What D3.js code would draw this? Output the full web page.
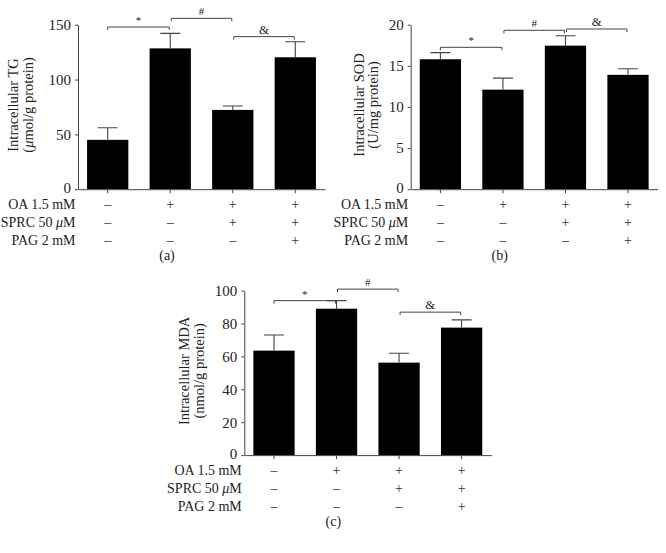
<!DOCTYPE html>
<html>
<head>
<meta charset="utf-8">
<script src="https://cdn.jsdelivr.net/npm/d3@7"></script>
<style>
  body { margin: 0; background: #fff; }
  svg { display: block; font-family: "Liberation Serif", "DejaVu Serif", serif; }
</style>
</head>
<body>
<div id="chart"></div>
<script>
const groups = ['ctrl', 'oa', 'oa_sprc', 'oa_sprc_pag'];

const tgMean = [45, 128.4, 72.3, 120.3];
const tgErr = [11, 13.7, 3.6, 14.2];
const sodMean = [15.8, 12.1, 17.45, 13.9];
const sodErr = [0.8, 1.4, 1.2, 0.75];
const mdaMean = [63.5, 89, 56.2, 77.5];
const mdaErr = [9.5, 4.9, 5.7, 4.7];

const tgTicks = [0, 50, 100, 150];
const sodTicks = [0, 5, 10, 15, 20];
const mdaTicks = [0, 20, 40, 60, 80, 100];

// [from, to, level, symbol]
const tgSig = [[0, 1, 147.9, '*'], [1, 2, 155.8, '#'], [2, 3, 139.1, '&']];
const sodSig = [[0, 1, 17.25, '*'], [1, 2, 19.32, '#'], [2, 3, 19.48, '&']];
const mdaSig = [[0, 1, 93.9, '*'], [1, 2, 100.9, '#'], [2, 3, 86.9, '&']];

const rowLabels = ['OA 1.5 mM', 'SPRC 50 \u03bcM', 'PAG 2 mM'];
const rowSigns = [
    ['\u2013', '+', '+', '+'],
    ['\u2013', '\u2013', '+', '+'],
    ['\u2013', '\u2013', '\u2013', '+']
];

const svg = d3.select('#chart').append('svg')
    .attr('width', 666)
    .attr('height', 553);

const ink = '#222';
const grey = '#444';

// writes a label, setting any mu in italics
function with_mu(sel, lab) {
    if (lab.indexOf('\u03bc') >= 0) {
        const parts = lab.split('\u03bc');
        sel.append('tspan').text(parts[0]);
        sel.append('tspan').style('font-style', 'italic').text('\u03bc');
        sel.append('tspan').text(parts[1]);
    } else {
        sel.text(lab);
    }
}

function bar_panel(fmt, mean, err, ticks, sig) {
    const width = 247, height = 164.5;

    const x = d3.scaleBand().domain(groups)
        .range([0, width]).paddingInner(0.34).paddingOuter(0.145);
    const y = d3.scaleLinear().domain([0, ticks[ticks.length - 1]]).range([height, 0]);

    const g = svg.append('g')
        .attr('transform', 'translate(' + fmt.left + ',' + fmt.top + ')');

    g.selectAll('.bar')
        .data(mean)
        .enter().append('rect')
        .attr('x', (_, i) => x(groups[i]))
        .attr('y', (d) => y(d))
        .attr('width', x.bandwidth())
        .attr('height', (d) => height - y(d))
        .attr('fill', '#000');

    const cx = (i) => x(groups[i]) + x.bandwidth() / 2;

    g.selectAll('.err')
        .data(mean)
        .enter().append('path')
        .attr('fill', 'none')
        .attr('stroke', grey)
        .attr('stroke-width', 1.1)
        .attr('d', (d, i) => 'M' + cx(i) + ',' + y(d) + 'V' + y(d + err[i]) +
            'M' + (cx(i) - 10) + ',' + y(d + err[i]) + 'H' + (cx(i) + 10));

    const yAxis = g.append('g')
        .call(d3.axisLeft(y).tickValues(ticks).tickSize(3).tickSizeOuter(0).tickPadding(4));
    const xAxis = g.append('g')
        .attr('transform', 'translate(0,' + height + ')')
        .call(d3.axisBottom(x).tickSize(4).tickSizeOuter(0).tickFormat(''));
    [yAxis, xAxis].forEach((a) => {
        a.selectAll('path, line').attr('stroke', grey);
        a.selectAll('text').attr('fill', ink)
            .style('font-family', '"Liberation Serif", serif')
            .style('font-size', '15px');
    });
    // lift the zero label a little so it clears the first row label
    yAxis.selectAll('.tick text').filter((d) => d == 0).attr('dy', '0.2em');

    sig.forEach((s) => {
        const x1 = cx(s[0]) + (s[0] > 0 ? 1 : 0), x2 = cx(s[1]) - 1, yy = y(s[2]);
        g.append('path')
            .attr('fill', 'none')
            .attr('stroke', grey)
            .attr('stroke-width', 1)
            .attr('d', 'M' + x1 + ',' + (yy + 3) + 'V' + yy + 'H' + x2 + 'V' + (yy + 3));
        g.append('text')
            .attr('x', (x1 + x2) / 2)
            .attr('y', yy - 3)
            .attr('text-anchor', 'middle')
            .attr('fill', ink)
            .style('font-size', s[3] == '&' ? '13px' : '11px')
            .text(s[3]);
    });

    rowLabels.forEach((lab, r) => {
        const ty = height + 15 + 18 * r;
        const t = g.append('text')
            .attr('x', -2.5)
            .attr('y', ty)
            .attr('dy', '0.35em')
            .attr('text-anchor', 'end')
            .attr('fill', ink)
            .style('font-size', '14px');
        with_mu(t, lab);
        g.selectAll('.sign' + r)
            .data(rowSigns[r])
            .enter().append('text')
            .attr('x', (_, i) => cx(i))
            .attr('y', ty)
            .attr('dy', '0.35em')
            .attr('text-anchor', 'middle')
            .attr('fill', '#333')
            .style('font-size', '14px')
            .text((d) => d);
    });

    const yl = g.append('text')
        .attr('transform', 'translate(' + fmt.labelX + ',' + (height / 2 - 2) + ') rotate(-90)')
        .attr('text-anchor', 'middle')
        .attr('fill', ink)
        .style('font-size', '14.5px');
    yl.append('tspan').attr('x', 0).attr('y', 0).text(fmt.ylabel[0]);
    with_mu(yl.append('tspan').attr('x', 0).attr('y', 14.5), fmt.ylabel[1]);

    g.append('text')
        .attr('x', 89)
        .attr('y', height + 71)
        .attr('text-anchor', 'middle')
        .attr('fill', ink)
        .style('font-size', '14px')
        .text(fmt.title);
}

bar_panel({left: 78, top: 24.7, labelX: -60, title: '(a)',
    ylabel: ['Intracellular TG', '(\u03bcmol/g protein)']}, tgMean, tgErr, tgTicks, tgSig);
bar_panel({left: 410.7, top: 24.7, labelX: -47, title: '(b)',
    ylabel: ['Intracellular SOD', '(U/mg protein)']}, sodMean, sodErr, sodTicks, sodSig);
bar_panel({left: 244.3, top: 290.6, labelX: -55, title: '(c)',
    ylabel: ['Intracellular MDA', '(nmol/g protein)']}, mdaMean, mdaErr, mdaTicks, mdaSig);
</script>
</body>
</html>
